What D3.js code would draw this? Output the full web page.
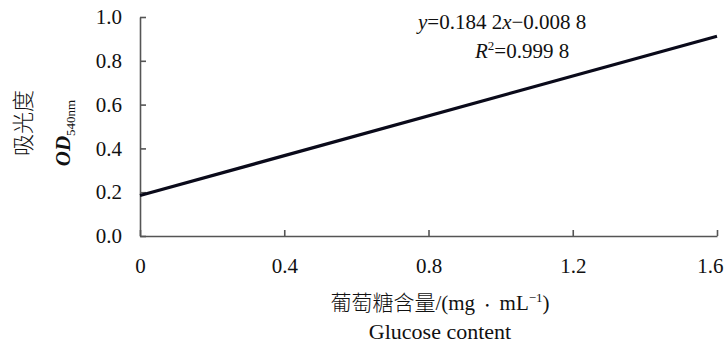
<!DOCTYPE html>
<html>
<head>
<meta charset="utf-8">
<script src="https://cdn.jsdelivr.net/npm/d3@7"></script>
<style>
  body { margin: 0; background: #fff; }
  svg text { font-family: 'Liberation Serif', 'DejaVu Serif', serif; fill: #111; }
  svg text.cjk, svg tspan.cjk { font-family: 'Noto Sans CJK SC', sans-serif; font-weight: 300; }
</style>
</head>
<body>
<svg id="chart" width="726" height="346"></svg>
<script>
// fitted standard curve
const glucose = [0, 1.6]
const absorbance = [0.185, 0.912]
const xTicks = [0, 0.4, 0.8, 1.2, 1.6]
const yTicks = [0, 0.2, 0.4, 0.6, 0.8, 1.0]

const serif = 'Liberation Serif, DejaVu Serif, serif'
const svg = d3.select('#chart')
const margin = {top: 17, right: 9, bottom: 110, left: 140}
const width = 726 - margin.left - margin.right
const height = 346 - margin.top - margin.bottom
const g = svg.append('g').attr('transform', 'translate(' + margin.left + ',' + margin.top + ')')

const x = d3.scaleLinear().domain([0, 1.6]).range([0, width])
const y = d3.scaleLinear().domain([0, 1.0]).range([height, 0])

// X-axis, ticks pointing inward
const xAxis = g.append('g')
  .attr('transform', 'translate(0,' + height + ')')
  .call(d3.axisBottom(x).tickValues(xTicks).tickSizeInner(-6).tickSizeOuter(0).tickPadding(22)
    .tickFormat(d => d === 0 ? '0' : d3.format('.1f')(d)))
xAxis.attr('font-family', serif)
xAxis.selectAll('text').attr('font-size', 21)
// last label would be cut at the edge
xAxis.selectAll('text').filter(d => d === 1.6).attr('text-anchor', 'end').attr('dx', 6)

// Y-axis
const yAxis = g.append('g')
  .call(d3.axisLeft(y).tickValues(yTicks).tickSizeInner(-6).tickSizeOuter(0).tickPadding(18)
    .tickFormat(d3.format('.1f')))
yAxis.attr('font-family', serif)
yAxis.selectAll('text').attr('font-size', 21)

g.selectAll('.domain, .tick line').attr('stroke', '#555').attr('stroke-width', 1.6)

// the line
const pts = glucose.map((v, i) => [v, absorbance[i]])
g.append('path')
  .datum(pts)
  .attr('fill', 'none')
  .attr('stroke', '#0a0a1a')
  .attr('stroke-width', 3.2)
  .attr('d', d3.line().x(d => x(d[0])).y(d => y(d[1])))

// equation
const eq = svg.append('text').attr('x', 418).attr('y', 29).attr('font-size', 21)
eq.append('tspan').attr('font-style', 'italic').text('y')
eq.append('tspan').text('=0.184 2')
eq.append('tspan').attr('font-style', 'italic').text('x')
eq.append('tspan').text('\u22120.008 8')

const r2 = svg.append('text').attr('x', 475).attr('y', 58).attr('font-size', 21)
r2.append('tspan').attr('font-style', 'italic').text('R')
r2.append('tspan').attr('font-size', 13).attr('dy', -8).text('2')
r2.append('tspan').attr('dy', 8).text('=0.999 8')

// x title
const xt = svg.append('text').attr('x', 440).attr('y', 310).attr('text-anchor', 'middle').attr('font-size', 21)
xt.append('tspan').attr('class', 'cjk').attr('font-size', 21).text('葡萄糖含量')
xt.append('tspan').text('/(mg ')
xt.append('tspan').attr('class', 'cjk').attr('font-size', 14).text('•')
xt.append('tspan').text(' mL')
xt.append('tspan').attr('font-size', 13).attr('dy', -8).text('\u22121')
xt.append('tspan').attr('dy', 8).text(')')

svg.append('text').attr('x', 440).attr('y', 339).attr('text-anchor', 'middle').attr('font-size', 22)
  .text('Glucose content')

// y title
svg.append('text').attr('class', 'cjk')
  .attr('transform', 'translate(31,123) rotate(-90)')
  .attr('text-anchor', 'middle').attr('font-size', 22)
  .text('吸光度')

const yt = svg.append('text')
  .attr('transform', 'translate(70,133) rotate(-90)')
  .attr('text-anchor', 'middle').attr('font-size', 21)
yt.append('tspan').attr('font-style', 'italic').attr('font-weight', 'bold').text('OD')
yt.append('tspan').attr('font-size', 13).attr('dy', 5).text('540nm')
</script>
</body>
</html>
